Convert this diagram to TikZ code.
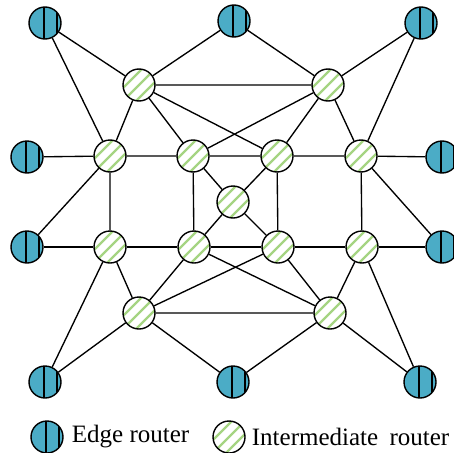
\documentclass[tikz,border=0pt]{standalone}
\usepackage{fontspec}
\setmainfont{Liberation Serif}
\usepackage{tikz}
\usetikzlibrary{positioning}

\definecolor{edgeblue}{RGB}{75,172,198}
\definecolor{hatchgreen}{RGB}{165,212,130}

\tikzset{
  edgerouter/.style={circle, draw, line width=1.4pt, fill=edgeblue, minimum size=32pt, inner sep=0pt,
    path picture={
      \foreach \d in {-1,12}
        \draw[line width=1.3pt] ([xshift=\d pt, yshift=-20pt]path picture bounding box.center) -- ([xshift=\d pt, yshift=20pt]path picture bounding box.center);
    }},
  interrouter/.style={circle, draw, line width=1.4pt, fill=white, minimum size=32pt, inner sep=0pt,
    path picture={
      \foreach \d in {-26,-13,0,13,26}
        \draw[hatchgreen, line width=2.2pt] ([xshift=\d pt]path picture bounding box.center) ++(-20pt,-20pt) -- ++(40pt,40pt);
    }},
  link/.style={line width=1.35pt},
  legendtext/.style={font=\fontsize{25}{30}\selectfont, inner sep=2pt}
}

\begin{document}
\begin{tikzpicture}[x=1pt, y=-1pt]
\useasboundingbox (0,0) rectangle (454,452);

% edge routers
\node[edgerouter] (et1) at (45,23) {};
\node[edgerouter] (et2) at (234,21) {};
\node[edgerouter] (et3) at (421,23) {};
\node[edgerouter] (el1) at (27,157) {};
\node[edgerouter] (el2) at (27,247) {};
\node[edgerouter] (er1) at (442,157) {};
\node[edgerouter] (er2) at (442,247) {};
\node[edgerouter] (eb1) at (45,382) {};
\node[edgerouter] (eb2) at (233,382) {};
\node[edgerouter] (eb3) at (420,382) {};

% intermediate routers
\node[interrouter] (iu1) at (139,85) {};
\node[interrouter] (iu2) at (328,85) {};
\node[interrouter] (a1) at (110,156) {};
\node[interrouter] (a2) at (193,156) {};
\node[interrouter] (a3) at (277,156) {};
\node[interrouter] (a4) at (361,156) {};
\node[interrouter] (c) at (233,202) {};
\node[interrouter] (b1) at (110,247) {};
\node[interrouter] (b2) at (194,247) {};
\node[interrouter] (b3) at (278,247) {};
\node[interrouter] (b4) at (362,247) {};
\node[interrouter] (il1) at (139,313) {};
\node[interrouter] (il2) at (330,313) {};

% links
\draw[link] (et1) -- (iu1) (et1) -- (a1) (et2) -- (iu1) (et2) -- (iu2) (et3) -- (iu2) (et3) -- (a4);
\draw[link] (iu1) -- (iu2) (iu1) -- (a1) (iu1) -- (a2) (iu1) -- (a3);
\draw[link] (iu2) -- (a2) (iu2) -- (a3) (iu2) -- (a4);
\draw[link] (el1) -- (a1) -- (a2) -- (a3) -- (a4) -- (er1);
\draw[link] (el2) -- (a1) (a4) -- (er2);
\draw[link] (a1) -- (b1) (a2) -- (b2) (a3) -- (b3) (a4) -- (b4);
\draw[link] (a2) -- (c) (a3) -- (c) (c) -- (b2) (c) -- (b3);
\draw[link] (el2) -- (b1) -- (b2) -- (b3) -- (b4) -- (er2);
\draw[link] (b1) -- (il1) (b2) -- (il1) (b3) -- (il1);
\draw[link] (b2) -- (il2) (b3) -- (il2) (b4) -- (il2) (il1) -- (il2);
\draw[link] (eb1) -- (b1) (eb1) -- (il1) (eb2) -- (il1) (eb2) -- (il2) (eb3) -- (il2) (eb3) -- (b4);

% legend
\node[edgerouter] (ledge) at (47,437) {};
\node[legendtext, right=6pt of ledge] (ledgetxt) {Edge router};
\node[interrouter] (linter) at (229,437) {};
\node[legendtext, right=4pt of linter] (lintertxt) {Intermediate\hspace{5pt} router};
\end{tikzpicture}
\end{document}
